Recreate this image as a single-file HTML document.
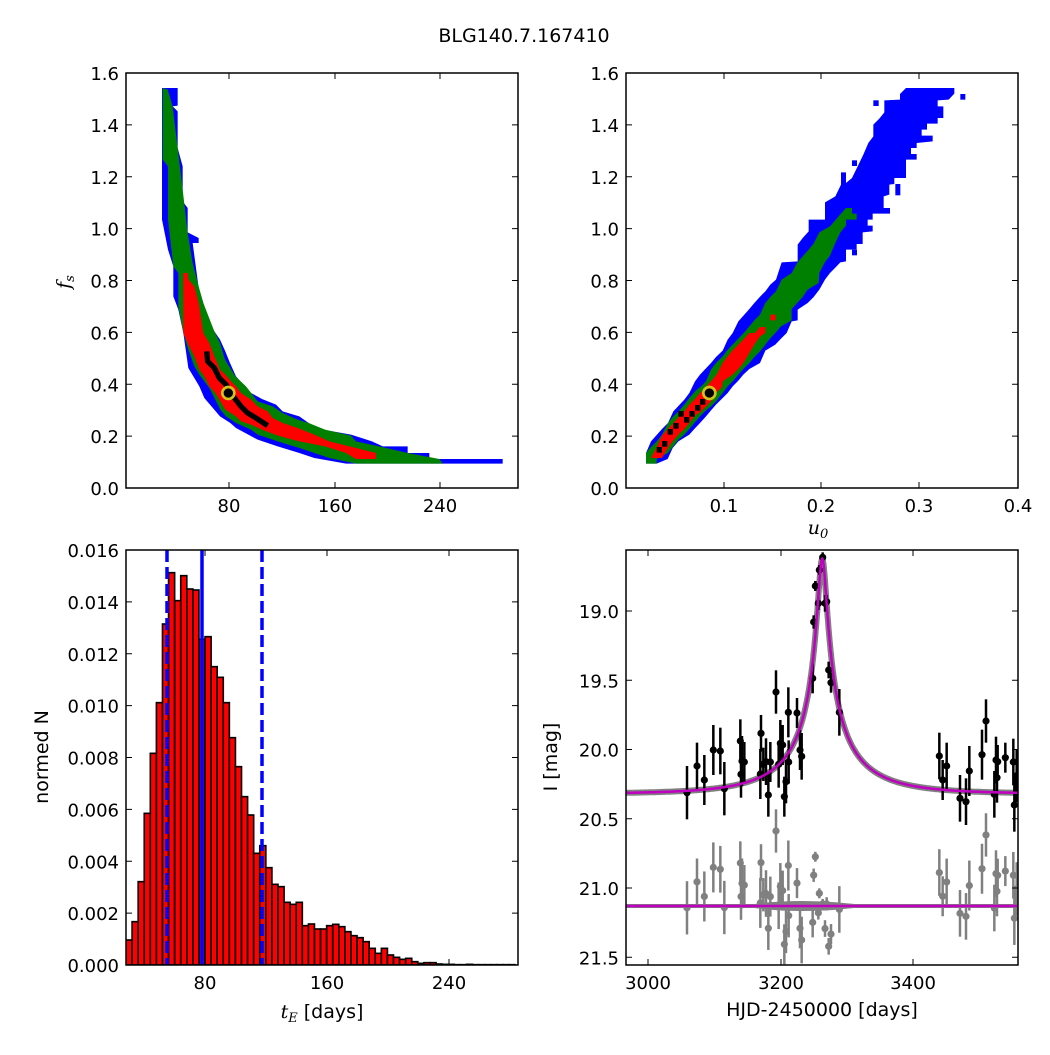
<!DOCTYPE html>
<html><head><meta charset="utf-8"><style>
html,body{margin:0;padding:0;background:#fff;}
svg text{font-family:"DejaVu Sans","Liberation Sans",sans-serif;font-size:18px;fill:#000;}
.it{font-family:"DejaVu Serif","Liberation Serif",serif;font-style:italic;}
</style></head><body>
<svg id="s" width="1050" height="1050" xmlns="http://www.w3.org/2000/svg">
<rect width="1050" height="1050" fill="#fff"/>
<text x="524" y="42" text-anchor="middle" style="font-size:19px">BLG140.7.167410</text>
<defs>
<clipPath id="c1"><rect x="126" y="73" width="392" height="415"/></clipPath>
<clipPath id="c2"><rect x="626" y="73" width="392" height="415"/></clipPath>
<clipPath id="c3"><rect x="126" y="550" width="392" height="415"/></clipPath>
<clipPath id="c4"><rect x="626" y="550" width="392" height="415"/></clipPath>
</defs>
<!-- TL -->
<g clip-path="url(#c1)"><g transform="translate(126,73) scale(0.33333)">
<polygon fill="#0000ff" points="108,45 155,45 155,98 140,100 155,115 155,225 170,280 170,385 185,405 185,478 218,495 218,510 200,510 218,645 235,700 250,745 265,775 282,800 297,833 312,870 330,910 375,960 408,978 450,995 470,1015 520,1030 548,1050 580,1068 675,1085 738,1105 770,1120 845,1120 845,1140 880,1140 910,1140 910,1158 1130,1158 1130,1172 660,1172 565,1155 520,1140 455,1120 395,1100 330,1065 313,1050 282,1030 235,975 220,940 187,885 172,780 157,710 142,670 142,580 126,530 108,440 108,45"/>
<polygon fill="#008000" points="110,45 125,50 140,100 155,225 170,350 185,480 200,570 218,640 232,690 265,775 282,810 297,860 328,910 360,940 395,985 440,1000 470,1020 515,1040 548,1050 597,1070 675,1088 690,1105 768,1122 845,1140 940,1158 950,1172 690,1172 610,1155 565,1140 520,1125 455,1105 395,1085 375,1070 330,1050 300,1030 283,1010 268,980 250,945 220,905 205,880 187,830 172,780 157,700 157,600 142,580 126,440 126,280 110,260"/>
<polygon fill="#ff0000" points="172,600 185,600 187,620 205,640 218,690 232,780 250,810 265,850 282,890 298,905 315,925 330,940 345,960 375,980 395,1000 425,1015 440,1035 470,1050 515,1065 565,1085 610,1105 690,1125 750,1140 750,1158 690,1158 660,1140 597,1120 520,1105 455,1088 408,1070 375,1055 345,1045 330,1030 298,1010 283,985 268,960 250,940 235,910 220,890 205,850 187,815 172,780"/>
<polyline fill="none" stroke="#000" stroke-width="16" points="242,835 245,865 265,885 280,915 300,935 325,975 345,1000 365,1020 390,1035 425,1058"/>
<circle cx="307" cy="960" r="18" fill="#000" stroke="#d4c21c" stroke-width="8"/>
</g></g>
<!-- TR -->
<g clip-path="url(#c2)"><g transform="translate(626,73) scale(0.33333)">
<polygon fill="#0000ff" points="60,1172 60,1140 75,1105 108,1068 126,1050 142,1015 175,980 190,960 207,925 222,905 255,870 270,852 290,833 305,800 320,780 337,745 370,708 385,690 403,670 418,655 433,635 450,620 467,568 515,565 515,515 530,495 548,475 548,440 597,440 597,388 628,370 645,335 645,298 660,298 660,330 678,315 695,280 712,245 727,210 742,190 742,155 760,137 775,118 775,82 822,80 822,63 840,45 985,45 985,62 968,80 935,82 935,100 952,100 952,135 935,135 935,152 903,152 903,170 887,170 887,188 920,188 920,205 872,210 872,225 855,225 855,243 872,243 872,260 840,260 840,315 805,315 805,333 790,335 790,365 773,370 773,405 792,405 792,422 740,422 740,440 725,440 725,458 740,458 740,475 710,478 710,513 692,513 692,530 660,530 660,565 643,568 627,585 612,600 597,620 580,650 563,672 545,690 515,710 515,742 497,745 482,780 465,797 448,815 418,833 402,870 370,888 352,905 337,923 320,940 305,960 290,975 270,995 255,1012 240,1030 222,1050 205,1068 190,1085 157,1105 140,1125 125,1158 92,1172"/>
<rect x="1003" y="63" width="15" height="17" fill="#0000ff"/><rect x="742" y="82" width="16" height="17" fill="#0000ff"/>
<rect x="678" y="262" width="15" height="17" fill="#0000ff"/><rect x="808" y="333" width="15" height="34" fill="#0000ff"/>
<rect x="678" y="530" width="15" height="17" fill="#0000ff"/>
<polygon fill="#008000" points="60,1172 60,1140 75,1122 92,1105 108,1085 126,1050 142,1030 160,1012 175,995 190,975 207,955 225,940 240,925 255,890 270,870 290,850 305,830 320,815 337,797 355,778 370,760 385,742 402,725 418,690 433,672 450,655 467,620 497,600 515,567 548,530 563,512 580,478 612,460 645,422 660,405 678,405 678,422 692,422 692,440 660,440 660,458 643,478 627,512 612,548 597,567 580,600 578,630 545,650 530,672 497,708 497,742 465,760 448,780 432,797 418,815 402,835 385,852 370,870 352,888 337,905 320,925 305,940 290,960 270,985 255,1000 240,1012 222,1030 205,1050 190,1068 175,1085 157,1100 140,1122 125,1140 92,1158 92,1172"/>
<polygon fill="#ff0000" points="75,1155 92,1122 108,1088 126,1068 142,1050 160,1030 175,1015 190,995 207,978 222,960 255,925 272,905 290,870 305,850 320,832 337,815 355,797 370,780 387,780 402,762 418,762 418,780 402,790 385,815 370,840 352,870 337,888 320,905 290,925 288,942 270,960 255,985 240,1000 225,1015 205,1030 190,1050 175,1068 157,1085 140,1105 125,1125 108,1155"/>
<rect x="433" y="725" width="16" height="17" fill="#ff0000"/>
<g fill="#000">
<rect x="92" y="1122" width="16" height="17"/><rect x="108" y="1104" width="16" height="17"/><rect x="125" y="1068" width="16" height="17"/>
<rect x="142" y="1050" width="16" height="17"/><rect x="157" y="1014" width="16" height="17"/><rect x="174" y="1032" width="16" height="17"/>
<rect x="190" y="1014" width="16" height="17"/><rect x="207" y="996" width="16" height="17"/><rect x="222" y="978" width="16" height="17"/>
</g>
<circle cx="250" cy="960" r="18" fill="#000" stroke="#d4c21c" stroke-width="8"/>
</g></g>
<g id="hist" clip-path="url(#c3)"></g>
<g id="lc" clip-path="url(#c4)"></g>
<g id="axes"></g>
<text class="it" x="70" y="282" text-anchor="middle" transform="rotate(-90 70 282)" style="font-size:19px">f<tspan dy="4" style="font-size:13px">s</tspan></text>
<text class="it" x="818" y="534" text-anchor="middle" style="font-size:19px">u<tspan dy="4" style="font-size:13px">0</tspan></text>
<text x="48" y="757" text-anchor="middle" transform="rotate(-90 48 757)" style="font-size:19px">normed N</text>
<text x="322" y="1018" text-anchor="middle" style="font-size:19px"><tspan class="it">t</tspan><tspan class="it" dy="4" style="font-size:13px">E</tspan><tspan dy="-4"> [days]</tspan></text>
<text x="557" y="757" text-anchor="middle" transform="rotate(-90 557 757)" style="font-size:19px">I [mag]</text>
<text x="822" y="1016" text-anchor="middle" style="font-size:19px">HJD-2450000 [days]</text>
</svg>
<script>
var NS="http://www.w3.org/2000/svg";
function el(p,t,a,txt){var e=document.createElementNS(NS,t);for(var k in a)e.setAttribute(k,a[k]);if(txt!==undefined)e.textContent=txt;p.appendChild(e);return e;}
var H=document.getElementById('hist');
var tops=[1170,1115,995,790,610,458,222,68,152,77,117,120,268,260,350,382,458,563,650,740,795,910,887,953,1003,1010,1057,1063,1057,1127,1122,1137,1137,1127,1123,1130,1145,1157,1163,1175,1195,1210,1195,1215,1222,1228,1225,1235,1240,1238,1238,1242,1243,1243,1244,1244,1243,1244,1244,1244,1244,1244,1244,1244];
var bw=6.08;
for(var i=0;i<tops.length;i++){var y=550+tops[i]/3;var h=965-y;if(h<0.3)h=0.3;
el(H,'rect',{x:126+i*bw,y:y,width:bw,height:h,fill:'#ff0000',stroke:'#000','stroke-width':1.6});}
el(H,'line',{x1:167,y1:550,x2:167,y2:965,stroke:'#0000ff','stroke-width':3.5,'stroke-dasharray':'12,5'});
el(H,'line',{x1:202,y1:550,x2:202,y2:965,stroke:'#0000ff','stroke-width':3.5});
el(H,'line',{x1:262,y1:550,x2:262,y2:965,stroke:'#0000ff','stroke-width':3.5,'stroke-dasharray':'12,5'});
var L=document.getElementById('lc');
function X(t){return 648+(t-3000)*0.6625;}
function Y(m){return 611+(m-19.0)*138.5;}
function A(u){return (u*u+2)/(u*Math.sqrt(u*u+4));}
function mod(t){var u=Math.sqrt(0.053*0.053+Math.pow((t-3263)/120,2));return 20.32-2.5*Math.log10(1+0.211*(A(u)-1));}
var p="";for(var t=2960;t<=3560;t+=0.5){p+=(t==2960?"M":"L")+X(t).toFixed(1)+","+Y(mod(t)).toFixed(1);}
var pts=[[183,728,80],[213,648,70],[235,690,75],[262,600,75],[283,603,70],[295,716,80],[343,573,65],[345,673,70],[348,633,75],[355,636,60],[405,550,55],[403,672,75],[412,643,50],[420,635,70],[427,735,65],[433,636,60],[450,426,65],[458,643,70],[463,580,70],[470,585,60],[475,740,60],[480,695,65],[487,487,75],[488,636,65],[513,489,45],[522,600,60],[527,619,70],[560,385,45],[563,216,20],[568,108,15],[577,160,20],[580,60,15],[590,22,15],[597,160,25],[602,155,20],[608,360,25],[615,398,30],[640,487,70],[940,618,70],[950,690,60],[962,648,70],[1002,745,70],[1020,755,70],[1030,663,75],[1068,614,75],[1080,513,65],[1105,733,70],[1110,630,70],[1113,683,75],[1115,635,50],[1138,623,45],[1162,636,70],[1165,765,80],[1172,677,80]];
el(L,'path',{d:p,fill:'none',stroke:'#808080','stroke-width':6});
el(L,'line',{x1:626,y1:906,x2:1018,y2:906,stroke:'#808080','stroke-width':4});
el(L,'path',{d:"M740,906 Q800,896 870,906 Q800,916 740,906Z",fill:'#808080'});
for(var i=0;i<pts.length;i++){var q=pts[i];var x=626+q[0]/3,y=550+q[1]/3,e=q[2]/3;var t=3000+(x-648)/0.6625;var ry=y-Y(mod(t))+906;
el(L,'line',{x1:x,y1:ry-e,x2:x,y2:ry+e,stroke:'#808080','stroke-width':2.5});el(L,'circle',{cx:x,cy:ry,r:3.6,fill:'#808080'});}
el(L,'line',{x1:626,y1:906,x2:1018,y2:906,stroke:'#c000c0','stroke-width':2.5});
for(var i=0;i<pts.length;i++){var q=pts[i];var x=626+q[0]/3,y=550+q[1]/3,e=q[2]/3;
el(L,'line',{x1:x,y1:y-e,x2:x,y2:y+e,stroke:'#000','stroke-width':2.5});el(L,'circle',{cx:x,cy:y,r:3.6,fill:'#000'});}
el(L,'path',{d:p,fill:'none',stroke:'#c000c0','stroke-width':2.5});
var G=document.getElementById('axes');
function axis(x0,y0,w,h,xt,yt){
el(G,'rect',{x:x0,y:y0,width:w,height:h,fill:'none',stroke:'#000','stroke-width':1.5});
xt.forEach(function(a){el(G,'line',{x1:a[0],y1:y0+h,x2:a[0],y2:y0+h-6,stroke:'#000'});el(G,'line',{x1:a[0],y1:y0,x2:a[0],y2:y0+6,stroke:'#000'});
el(G,'text',{x:a[0],y:y0+h+24,'text-anchor':'middle'},a[1]);});
yt.forEach(function(a){el(G,'line',{x1:x0,y1:a[0],x2:x0+6,y2:a[0],stroke:'#000'});el(G,'line',{x1:x0+w,y1:a[0],x2:x0+w-6,y2:a[0],stroke:'#000'});
el(G,'text',{x:x0-7,y:a[0]+7,'text-anchor':'end'},a[1]);});}
var fy=[];for(var i=0;i<=8;i++){fy.push([488-i*51.875,(i*0.2).toFixed(1)]);}
axis(126,73,392,415,[[229,'80'],[335,'160'],[440,'240']],fy);
axis(626,73,392,415,[[724,'0.1'],[821,'0.2'],[919,'0.3'],[1018,'0.4']],fy);
var hy=[];for(var i=0;i<=8;i++){hy.push([965-i*51.875,(i*0.002).toFixed(3)]);}
axis(126,550,392,415,[[205,'80'],[327,'160'],[449,'240']],hy);
var my=[];['19.0','19.5','20.0','20.5','21.0','21.5'].forEach(function(s){my.push([Y(parseFloat(s)),s]);});
axis(626,550,392,415,[[648,'3000'],[781,'3200'],[913,'3400']],my);
</script>
</body></html>
